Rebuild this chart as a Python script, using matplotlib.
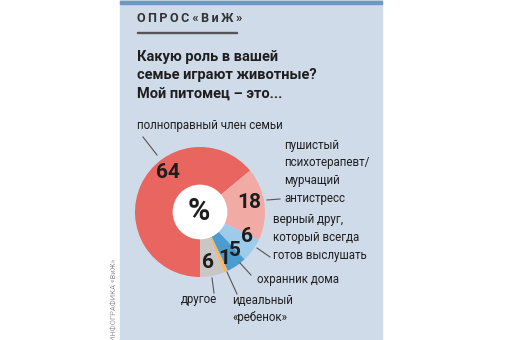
import matplotlib
matplotlib.use('Agg')
import matplotlib.pyplot as plt
from matplotlib.patches import Rectangle, Circle

plt.rcParams['font.family'] = ['Liberation Sans Narrow', 'Roboto', 'DejaVu Sans']

# survey data: share of answers, %
categories = ['полноправный член семьи', 'пушистый психотерапевт/мурчащий антистресс',
              'верный друг, который всегда готов выслушать', 'охранник дома',
              'идеальный «ребенок»', 'другое']
values = [64, 18, 6, 5, 1, 6]
colors = ['#e8665f', '#f2aaa5', '#9ccbec', '#4b9dd0', '#f6b766', '#c9c6c4']

W, H = 512, 340
fig = plt.figure(figsize=(W / 100, H / 100), dpi=100)
fig.patch.set_facecolor('white')

# background axes in pixel coords
bg = fig.add_axes([0, 0, 1, 1])
bg.set_xlim(0, W)
bg.set_ylim(H, 0)
bg.axis('off')
bg.add_patch(Rectangle((120, 0), 262, H, color='#cfdbe9', zorder=0))
bg.add_patch(Rectangle((120, 0.5), 262, 3.5, color='#6c98c5', zorder=1))
bg.add_patch(Rectangle((137, 31.5), 100, 1.8, color='#555555', zorder=1))

# pie
cx, cy, r = 200, 212, 65
pa = fig.add_axes([(cx - r) / W, (H - cy - r) / H, 2 * r / W, 2 * r / H])
pa.pie(values, colors=colors, startangle=-90, counterclock=False, radius=1,
       wedgeprops=dict(linewidth=0))
pa.add_patch(Circle((0, 0), 0.41, color='white', zorder=3))
pa.set_xlim(-1, 1)
pa.set_ylim(-1, 1)
pa.axis('off')

# overlay axes for text and leaders
fg = fig.add_axes([0, 0, 1, 1])
fg.set_xlim(0, W)
fg.set_ylim(H, 0)
fg.axis('off')
fg.patch.set_alpha(0)

dark = '#1e1e1e'
ts = '\u2009'
fg.text(137, 18, ts.join('ОПРОС') + ' ' + ts.join('«ВиЖ»'), fontsize=9, fontweight='bold',
        color='#333333', va='center', ha='left')
title = ['Какую роль в вашей', 'семье играют животные?', 'Мой питомец – это...']
for i, line in enumerate(title):
    fg.text(137, 57 + i * 18.5, line, fontsize=10.5, fontweight='bold',
            color=dark, va='center', ha='left')

small = 8.3
fg.text(137, 126, categories[0], fontsize=small, color=dark, va='center', ha='left')
for i, line in enumerate(['пушистый', 'психотерапевт/', 'мурчащий', 'антистресс']):
    fg.text(284, 145 + i * 17.8, line, fontsize=small, color=dark, va='center', ha='left')
for i, line in enumerate(['верный друг,', 'который всегда', 'готов выслушать']):
    fg.text(273, 220 + i * 17.5, line, fontsize=small, color=dark, va='center', ha='left')
fg.text(257, 279, categories[3], fontsize=small, color=dark, va='center', ha='left')
fg.text(232, 300, 'идеальный', fontsize=small, color=dark, va='center', ha='left')
fg.text(232, 318, '«ребенок»', fontsize=small, color=dark, va='center', ha='left')
fg.text(199, 300, categories[5], fontsize=small, color=dark, va='center', ha='center')

lc = '#555555'
for (x0, y0, x1, y1) in [(143, 137, 157, 155), (267, 200, 280, 199), (257, 248, 270, 257),
                         (240, 263, 251, 275), (212, 278, 214, 293), (227, 272, 237, 294)]:
    fg.plot([x0, x1], [y0, y1], color=lc, lw=0.8)

fg.text(115, 341, 'ИНФОГРАФИКА «ВиЖ»', fontsize=5.5, color='#9a9a9a', rotation=90,
        ha='center', va='bottom')

# value labels
val_pos = [(168, 172), (249, 203), (247, 237), (235, 250), (224, 258), (208, 262)]
for v, (x, y) in zip(values, val_pos):
    fg.text(x, y, str(v), fontsize=15, fontweight='bold', color=dark,
            ha='center', va='center')
fg.text(199, 211, '%', fontsize=22, fontweight='bold', color=dark,
        ha='center', va='center')

fig.savefig('out.png', dpi=100, facecolor='white')
